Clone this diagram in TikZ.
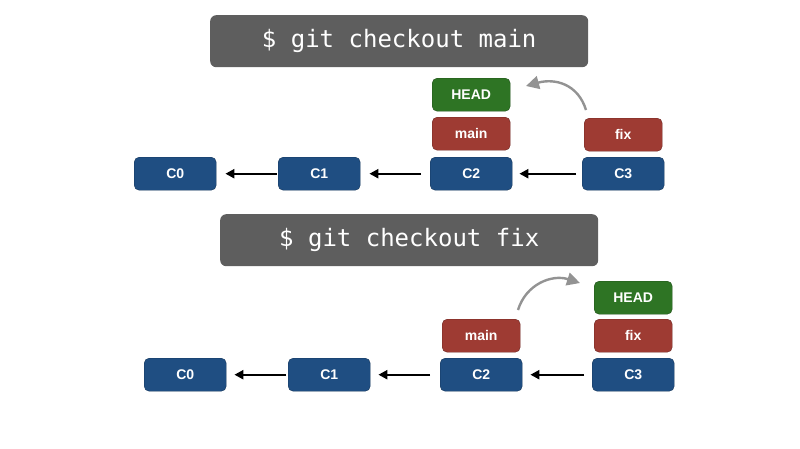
\documentclass[tikz,border=0pt]{standalone}
\usepackage{fontspec}
\setmainfont{Liberation Sans}
\newfontfamily\monof{DejaVu Sans Mono}
\usetikzlibrary{arrows.meta}
\definecolor{cblue}{HTML}{1F4E82}
\definecolor{cred}{HTML}{9E3B33}
\definecolor{cgreen}{HTML}{2E7424}
\definecolor{cgray}{HTML}{5E5E5E}
\begin{document}
\begin{tikzpicture}[x=1pt,y=-1pt,
  box/.style={rounded corners=5pt,minimum width=82pt,minimum height=33pt,inner sep=0,text=white,font=\fontsize{14}{16}\selectfont\bfseries,anchor=north west},
  commit/.style={box,fill=cblue,draw=cblue!70!black},
  br/.style={box,fill=cred,draw=cred!70!black,minimum width=78pt},
  hd/.style={box,fill=cgreen,draw=cgreen!70!black,minimum width=78pt},
  banner/.style={rounded corners=6pt,fill=cgray,minimum width=378pt,minimum height=52pt,text=white,font=\monof\fontsize{24}{28}\selectfont,anchor=north west},
  link/.style={-{Triangle[length=9pt,width=9pt]},line width=2.4pt},
  move/.style={-{Triangle[length=13pt,width=13pt]},line width=2.4pt,draw=gray!85}]
\useasboundingbox (0,0) rectangle (800,448);
\node[banner] (b1) at (210,15) {\$ git checkout main};
\node[commit] (a0) at (134,157) {C0};
\node[commit] (a1) at (278,157) {C1};
\node[commit] (a2) at (430,157) {C2};
\node[commit] (a3) at (582,157) {C3};
\node[br] (am) at (432,117) {main};
\node[hd] (ah) at (432,78) {HEAD};
\node[br] (af) at (584,118) {fix};
\draw[link] ([xshift=-6pt]a3.west) -- ([xshift=7pt]a2.east);
\draw[link] ([xshift=-9pt]a2.west) -- ([xshift=9pt]a1.east);
\draw[link] ([xshift=-1pt]a1.west) -- ([xshift=9pt]a0.east);
\coordinate (as) at (586,110);
\coordinate (ae) at (526,86);
\draw[move] (as) .. controls (578,84) and (555,78) .. (ae);

\node[banner] (b2) at (220,214) {\$ git checkout fix};
\node[commit] (c0) at (144,358) {C0};
\node[commit] (c1) at (288,358) {C1};
\node[commit] (c2) at (440,358) {C2};
\node[commit] (c3) at (592,358) {C3};
\node[br] (cm) at (442,319) {main};
\node[br] (cf) at (594,319) {fix};
\node[hd] (ch) at (594,281) {HEAD};
\draw[link] ([xshift=-8pt]c3.west) -- ([xshift=8pt]c2.east);
\draw[link] ([xshift=-10pt]c2.west) -- ([xshift=8pt]c1.east);
\draw[link] ([xshift=-2pt]c1.west) -- ([xshift=8pt]c0.east);
\coordinate (cs) at (518,310);
\coordinate (ce) at (580,283);
\draw[move] (cs) .. controls (526,284) and (552,274) .. (ce);
\end{tikzpicture}
\end{document}
